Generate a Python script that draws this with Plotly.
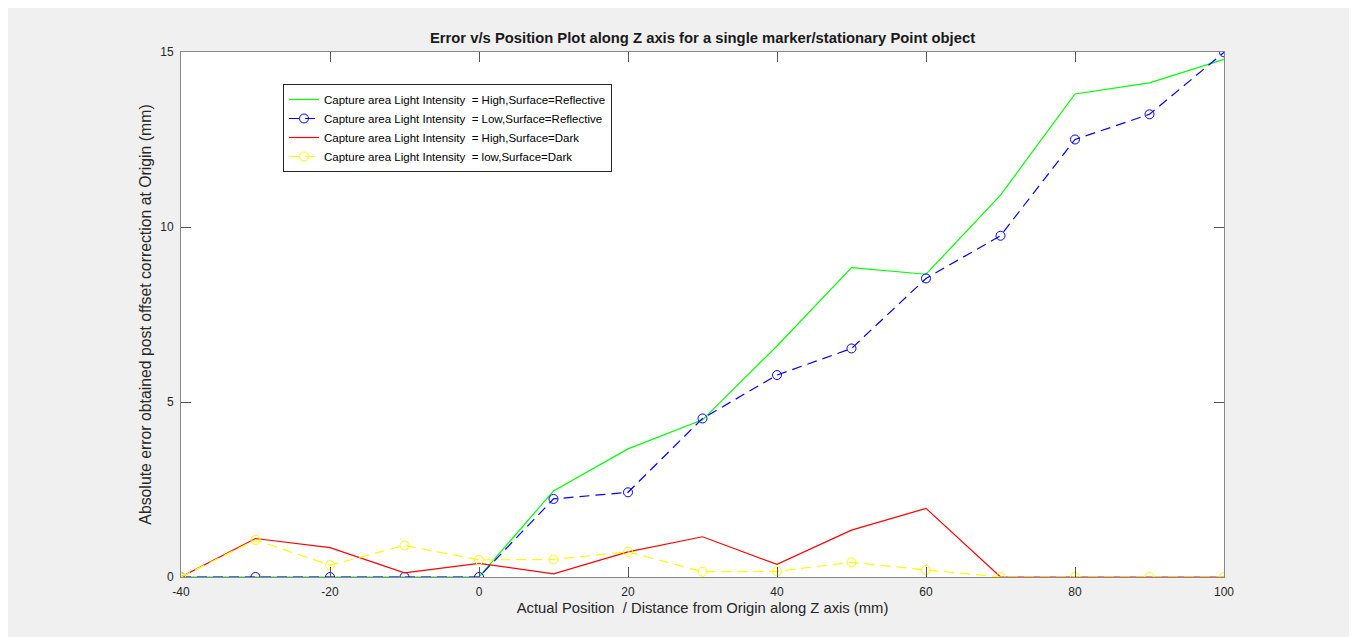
import plotly.graph_objects as go

positions = [-40, -30, -20, -10, 0, 10, 20, 30, 40, 50, 60, 70, 80, 90, 100]
high_reflective = [0, 0, 0, 0, 0, 2.46, 3.66, 4.49, 6.6, 8.84, 8.65, 10.91, 13.8, 14.12, 14.79]
low_reflective = [0, 0, 0, 0, 0, 2.23, 2.42, 4.53, 5.77, 6.53, 8.53, 9.75, 12.5, 13.22, 14.99]
high_dark = [0, 1.1, 0.84, 0.12, 0.39, 0.09, 0.72, 1.15, 0.36, 1.34, 1.96, 0, 0, 0, 0]
low_dark = [0, 1.06, 0.34, 0.9, 0.49, 0.5, 0.72, 0.15, 0.16, 0.42, 0.2, 0, 0, 0, 0]

names = [
    "Capture area Light Intensity  = High,Surface=Reflective",
    "Capture area Light Intensity  = Low,Surface=Reflective",
    "Capture area Light Intensity  = High,Surface=Dark",
    "Capture area Light Intensity  = low,Surface=Dark",
]

# page body has an 8px margin, so the figure starts at (8, 8)
W, H = 1349, 629
L, R, T, B = 173, 133, 44, 60
pw, ph = W - L - R, H - T - B

fig = go.Figure()
fig.add_trace(go.Scatter(x=positions, y=high_reflective, name=names[0], mode="lines",
                         line=dict(color="#00ff00", width=1.2)))
fig.add_trace(go.Scatter(x=positions, y=low_reflective, name=names[1], mode="lines+markers",
                         line=dict(color="#0000ff", width=1.2, dash="10px,6px"),
                         marker=dict(symbol="circle-open", size=9, color="#0000ff", line=dict(width=1))))
fig.add_trace(go.Scatter(x=positions, y=high_dark, name=names[2], mode="lines",
                         line=dict(color="#ff0000", width=1.2)))
fig.add_trace(go.Scatter(x=positions, y=low_dark, name=names[3], mode="lines+markers",
                         line=dict(color="#ffff00", width=1.2, dash="10px,6px"),
                         marker=dict(symbol="circle-open", size=9, color="#ffff00", line=dict(width=1))))

axis_common = dict(showgrid=False, zeroline=False, showline=True, linecolor="#888888", linewidth=1,
                   mirror="ticks", ticks="inside", ticklen=10, tickcolor="#555555",
                   tickfont=dict(size=12, color="#262626"))

fig.update_layout(
    width=W, height=H,
    margin=dict(l=L, r=R, t=T, b=B),
    paper_bgcolor="#f0f0f0",
    plot_bgcolor="#ffffff",
    font=dict(family="Liberation Sans, Arial, Helvetica, sans-serif", color="#262626"),
    title=dict(text="<b>Error v/s Position Plot along Z axis for a single marker/stationary Point object</b>",
               x=(L + pw / 2) / W, xanchor="center", y=1 - 30 / H, yanchor="middle", yref="container",
               font=dict(size=14.8, color="#1a1a1a")),
    xaxis=dict(range=[-40, 100], tickvals=[-40, -20, 0, 20, 40, 60, 80, 100],
               ticktext=["-40", "-20", "0", "20", "40", "60", "80", "100"],
               ticklabelstandoff=4,
               title=dict(text="Actual Position  / Distance from Origin along Z axis (mm)",
                          font=dict(size=14.8, color="#262626"), standoff=4),
               **axis_common),
    yaxis=dict(range=[0, 15], tickvals=[0, 5, 10, 15],
               ticklabelstandoff=4,
               title=dict(text="Absolute error obtained post offset correction at Origin (mm)",
                          font=dict(size=15.8, color="#262626"), standoff=4),
               **axis_common),
    legend=dict(x=(283 - 8 - L) / pw, y=(H - B - (84 - 8)) / ph, xanchor="left", yanchor="top",
                bgcolor="#ffffff", bordercolor="#262626", borderwidth=1,
                font=dict(size=11.5, color="#000000"), tracegroupgap=0),
    showlegend=True,
)

fig.write_html("out.html")
